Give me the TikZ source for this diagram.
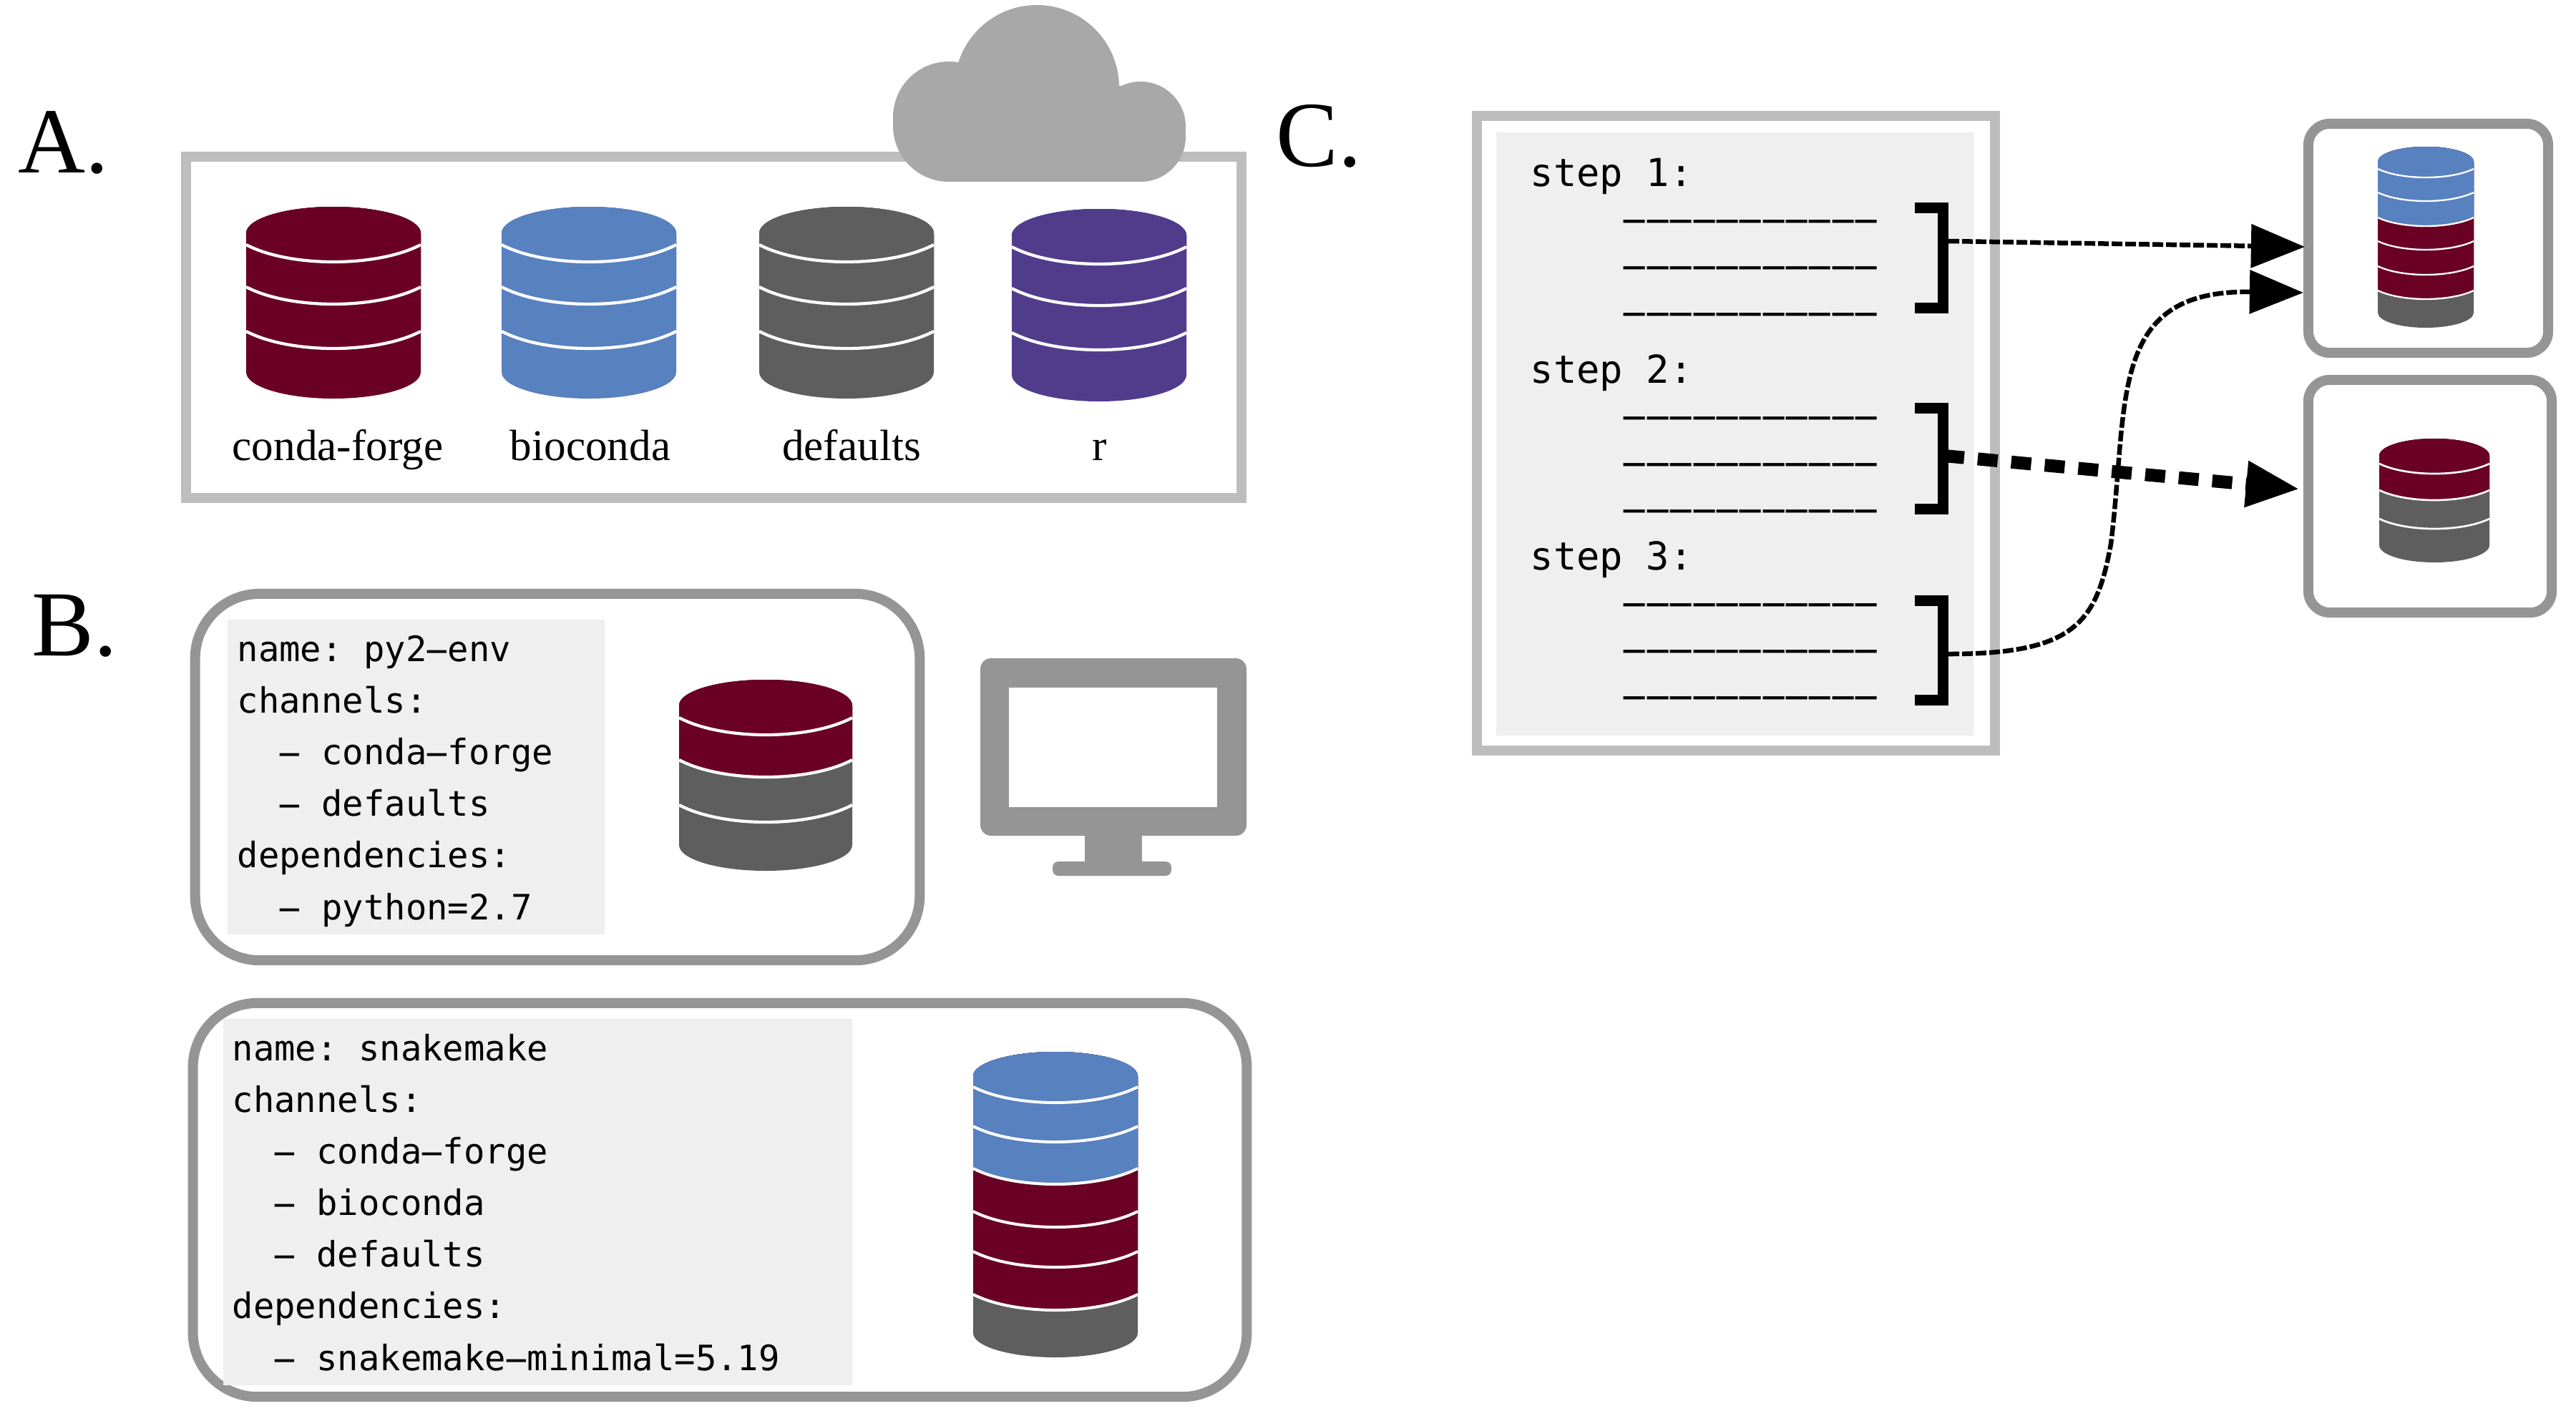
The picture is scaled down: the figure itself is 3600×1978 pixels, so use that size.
\documentclass[tikz,border=0pt]{standalone}
\usepackage{fontspec}
\usepackage{tikz}
\usetikzlibrary{arrows.meta,calc}
\newfontfamily\codefont{DejaVu Sans Mono}
\newfontfamily\dashfont[FakeStretch=2.2]{DejaVu Sans Mono}
\newfontfamily\headfont{Liberation Serif}
\definecolor{forgered}{HTML}{6A0024}
\definecolor{biocblue}{HTML}{5781BF}
\definecolor{defgray}{HTML}{5E5E5E}
\definecolor{rpurple}{HTML}{513C8C}
\definecolor{edgelight}{HTML}{BDBDBD}
\definecolor{edgedark}{HTML}{959595}
\definecolor{panelgray}{HTML}{EFEFEF}
\definecolor{cloudgray}{HTML}{A8A8A8}
\tikzset{%
  chanbox/.style   = {shape=rectangle, draw=edgelight, line width=.14cm},%
  envbox/.style    = {shape=rectangle, draw=edgedark, line width=.14cm, fill=white},%
  codepanel/.style = {shape=rectangle, fill=panelgray, inner sep=0pt},%
  codetext/.style  = {align=left, inner sep=0pt, anchor=base west,%
                      font=\codefont\frenchspacing\fontsize{13.9}{20.5}\selectfont},%
  steptext/.style  = {codetext, font=\codefont\frenchspacing\fontsize{15.3}{18.35}\selectfont},%
  chanlabel/.style = {inner sep=0pt, anchor=base, font=\headfont\fontsize{17.4}{20}\selectfont},%
  letter/.style    = {inner sep=0pt, anchor=base west, font=\headfont\fontsize{37}{40}\selectfont},%
  bracket/.style   = {line width=.15cm, line cap=butt},%
  jump/.style      = {line width=.065cm, dash pattern=on .15cm off .04cm,%
                      -{Triangle[length=.75cm,width=.6cm]}}%
}
% centre x, half width, top y, half height, bottom y, sag, joints y/colour above it from the bottom up, lowest colour
\newcommand{\dbstack}[8]{%
  \fill[#8] (#1-#2,#3) arc[start angle=180,end angle=360,x radius=#2,y radius=#4]
    -- (#1+#2,#5) arc[start angle=0,end angle=180,x radius=#2,y radius=#4] -- cycle;
  \foreach \jy/\tint in {#7}{
    \fill[\tint] (#1-#2,#3) arc[start angle=180,end angle=360,x radius=#2,y radius=#4]
      -- (#1+#2,\jy) .. controls (#1+#2/2,\jy+4/3*#6) and (#1-#2/2,\jy+4/3*#6) .. (#1-#2,\jy) -- cycle;
    \draw[white,line width=#2*0.0035mm] (#1+#2,\jy)
      .. controls (#1+#2/2,\jy+4/3*#6) and (#1-#2/2,\jy+4/3*#6) .. (#1-#2,\jy);
  }%
}
\newcommand{\hy}{\makebox[.602em]{\dashfont-}}
\newcommand{\codedash}{\phantom{xxxx}\hy\hy\hy\hy\hy\hy\hy\hy\hy\hy\hy}
\begin{document}
\begin{tikzpicture}[x=.01cm,y=-.01cm]
  \useasboundingbox (0,0) rectangle (3600,1978);
  % A
  \node[letter] (lettera) at (25,241) {A.};
  \node[chanbox, minimum width=14.75cm, minimum height=4.77cm] (chanall) at (997.5,457.5) {};
  \fill[cloudgray] (1449,122) circle (115);
  \fill[cloudgray] (1326,164) circle (78);
  \fill[cloudgray] (1326,176) circle (78);
  \fill[cloudgray] (1594,177) circle (63);
  \fill[cloudgray] (1594,191) circle (63);
  \fill[cloudgray] (1326,120) rectangle (1594,254);
  \dbstack{466}{122}{326}{37}{520}{24}{463/forgered,401/forgered,342/forgered}{forgered}
  \dbstack{823}{122}{326}{37}{520}{24}{463/biocblue,401/biocblue,342/biocblue}{biocblue}
  \dbstack{1183}{122}{326}{37}{520}{24}{463/defgray,401/defgray,342/defgray}{defgray}
  \dbstack{1536}{122}{329}{37}{524}{24}{465/rpurple,403/rpurple,345/rpurple}{rpurple}
  \node[chanlabel] (lblforge) at (472,643) {conda-forge};
  \node[chanlabel] (lblbioc) at (825,643) {bioconda};
  \node[chanlabel] (lbldef) at (1190,643) {defaults};
  \node[chanlabel] (lblr) at (1537,643) {r};
  % B
  \node[letter] (letterb) at (44,916) {B.};
  \node[envbox, rounded corners=.9cm, minimum width=10.12cm, minimum height=5.12cm] (envpy) at (779,1086) {};
  \node[codepanel, minimum width=5.27cm, minimum height=4.4cm] (panelpy) at (581.5,1086) {};
  \node[codetext] (codepy) at (331,1285) {name: py2\hy env\\channels:\\\phantom{xx}\hy{} conda\hy forge\\\phantom{xx}\hy{} defaults\\dependencies:\\\phantom{xx}\hy{} python=2.7};
  \dbstack{1070}{121}{986}{36}{1181}{24}{1125/defgray,1062/forgered,1003/forgered}{defgray}
  \fill[edgedark, rounded corners=.15cm] (1370,920) rectangle (1742,1168);
  \fill[white] (1410,961) rectangle (1701,1128);
  \fill[edgedark] (1516,1160) rectangle (1596,1210);
  \fill[edgedark, rounded corners=.08cm] (1471,1204) rectangle (1637,1224);
  \node[envbox, rounded corners=.9cm, minimum width=14.72cm, minimum height=5.5cm] (envsnake) at (1006,1677) {};
  \node[codepanel, minimum width=8.79cm, minimum height=5.12cm] (panelsnake) at (751.5,1680) {};
  \node[codetext] (codesnake) at (324,1915) {name: snakemake\\channels:\\\phantom{xx}\hy{} conda\hy forge\\\phantom{xx}\hy{} bioconda\\\phantom{xx}\hy{} defaults\\dependencies:\\\phantom{xx}\hy{} snakemake\hy minimal=5.19};
  \dbstack{1475}{115}{1504}{34}{1863}{22}{1809/forgered,1749/forgered,1693/forgered,1633/biocblue,1574/biocblue,1519/biocblue}{defgray}
  % C
  \node[letter] (letterc) at (1783,232) {C.};
  \node[chanbox, minimum width=7.24cm, minimum height=8.87cm] (stepbox) at (2426,605.5) {};
  \node[codepanel, minimum width=6.67cm, minimum height=8.43cm] (panelstep) at (2424.5,606.5) {};
  \node[steptext] (stepone) at (2138,454) {step 1:\\\codedash\\\codedash\\\codedash};
  \node[steptext] (steptwo) at (2138,729) {step 2:\\\codedash\\\codedash\\\codedash};
  \node[steptext] (stepthree) at (2138,990) {step 3:\\\codedash\\\codedash\\\codedash};
  \draw[bracket] (2676,290) -- (2715,290) -- (2715,430) -- (2676,430);
  \draw[bracket] (2676,570) -- (2715,570) -- (2715,711) -- (2676,711);
  \draw[bracket] (2676,839) -- (2715,839) -- (2715,978) -- (2676,978);
  \coordinate (brone) at (2723,337);
  \coordinate (brtwo) at (2717,637);
  \coordinate (brthree) at (2723,914);
  \node[envbox, rounded corners=.3cm, minimum width=3.35cm, minimum height=3.2cm] (envtop) at (3393.5,333) {};
  \node[envbox, rounded corners=.3cm, minimum width=3.4cm, minimum height=3.25cm] (envlow) at (3396,693.5) {};
  \dbstack{3390}{67}{226}{21}{437}{12}{406/forgered,372/forgered,337/forgered,304/biocblue,269/biocblue,236/biocblue}{defgray}
  \dbstack{3402}{77}{637}{24}{762}{14}{725/defgray,685/forgered,648/forgered}{defgray}
  \coordinate (topa) at ($(envtop.west)+(2,12)$);
  \coordinate (topb) at ($(envtop.west)+(0,76)$);
  \coordinate (lowa) at ($(envlow.west)+(-5,-10)$);
  \draw[jump] (brone) -- (topa);
  \draw[jump, line width=.18cm, dash pattern=on .28cm off .19cm] (brtwo) -- (lowa);
  \draw[jump] (brthree) .. controls (2900,914) and (2930,870) .. (2950,760)
    .. controls (2975,560) and (2945,405) .. (topb);
\end{tikzpicture}
\end{document}
